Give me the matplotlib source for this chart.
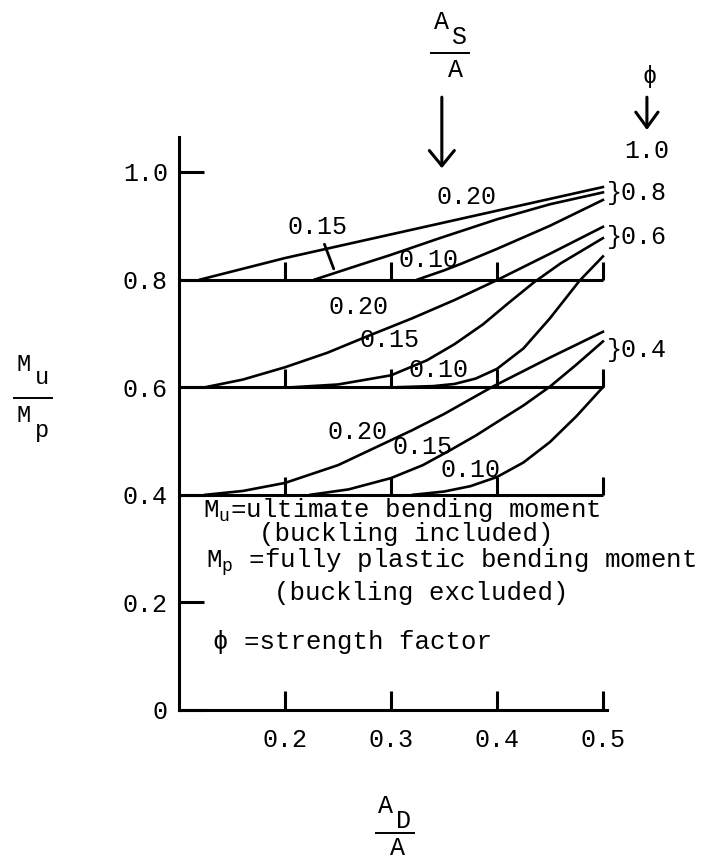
import matplotlib
matplotlib.use("Agg")
import matplotlib.pyplot as plt
from matplotlib.lines import Line2D

plt.rcParams['font.family'] = ['Liberation Mono', 'DejaVu Sans Mono']
plt.rcParams['mathtext.fontset'] = 'custom'
plt.rcParams['mathtext.rm'] = 'Liberation Mono'
plt.rcParams['mathtext.it'] = 'Liberation Mono'
plt.rcParams['font.size'] = 18

W, H = 716, 859

# base lines (strength factor phi) and tick values
phi_base = [0.4, 0.6, 0.8]
x_ticks = [0.2, 0.3, 0.4, 0.5]
x_tick_labels = ["0.2", "0.3", "0.4", "0.5"]
y_ticks = [0, 0.2, 0.4, 0.6, 0.8, 1.0]
y_tick_labels = ["0", "0.2", "0.4", "0.6", "0.8", "1.0"]

# phi = 0.8
ad_08_20 = [0.12, 0.20, 0.30, 0.40, 0.50]
mu_08_20 = [0.80, 0.840, 0.884, 0.928, 0.972]
ad_08_15 = [0.228, 0.27, 0.30, 0.346, 0.40, 0.45, 0.50]
mu_08_15 = [0.80, 0.827, 0.846, 0.877, 0.912, 0.940, 0.962]
ad_08_10 = [0.325, 0.35, 0.367, 0.40, 0.45, 0.50]
mu_08_10 = [0.80, 0.817, 0.830, 0.857, 0.900, 0.948]

# phi = 0.6
ad_06_20 = [0.125, 0.16, 0.20, 0.24, 0.277, 0.32, 0.36, 0.40, 0.45, 0.50]
mu_06_20 = [0.60, 0.614, 0.637, 0.664, 0.694, 0.728, 0.762, 0.799, 0.848, 0.898]
ad_06_15 = [0.208, 0.25, 0.30, 0.334, 0.36, 0.387, 0.41, 0.435, 0.46, 0.50]
mu_06_15 = [0.60, 0.605, 0.622, 0.650, 0.680, 0.717, 0.755, 0.795, 0.830, 0.877]
ad_06_10 = [0.307, 0.34, 0.36, 0.38, 0.40, 0.425, 0.45, 0.478, 0.50]
mu_06_10 = [0.60, 0.602, 0.606, 0.616, 0.634, 0.672, 0.728, 0.798, 0.843]

# phi = 0.4
ad_04_20 = [0.125, 0.16, 0.20, 0.25, 0.292, 0.32, 0.35, 0.396, 0.45, 0.50]
mu_04_20 = [0.40, 0.407, 0.422, 0.455, 0.494, 0.520, 0.550, 0.601, 0.655, 0.703]
ad_04_15 = [0.224, 0.26, 0.30, 0.33, 0.356, 0.38, 0.40, 0.425, 0.45, 0.475, 0.50]
mu_04_15 = [0.40, 0.410, 0.431, 0.455, 0.483, 0.510, 0.535, 0.566, 0.601, 0.642, 0.685]
ad_04_10 = [0.321, 0.35, 0.375, 0.40, 0.425, 0.45, 0.475, 0.50]
mu_04_10 = [0.40, 0.406, 0.416, 0.433, 0.460, 0.498, 0.546, 0.600]

curves = [(ad_08_20, mu_08_20), (ad_08_15, mu_08_15), (ad_08_10, mu_08_10),
          (ad_06_20, mu_06_20), (ad_06_15, mu_06_15), (ad_06_10, mu_06_10),
          (ad_04_20, mu_04_20), (ad_04_15, mu_04_15), (ad_04_10, mu_04_10)]

fig = plt.figure(figsize=(7.16, 8.59), dpi=100)
ax = fig.add_axes([0.25, 0.1735, 0.598, 0.667])

lw = 2.2
for x, y in curves:
    ax.plot(x, y, color='black', lw=1.9, solid_joinstyle='round')

ax.hlines(phi_base, 0.1, 0.5, color='black', lw=lw)
for b in phi_base:
    ax.vlines(x_ticks, b, b + 0.033, color='black', lw=lw)

ax.set_xlim(0.1, 0.504)
ax.set_ylim(0, 1.065)
for s in ['top', 'right']:
    ax.spines[s].set_visible(False)
for s in ['left', 'bottom']:
    ax.spines[s].set_linewidth(lw)

ax.set_xticks(x_ticks, labels=x_tick_labels)
ax.set_yticks(y_ticks, labels=y_tick_labels)
ax.tick_params(axis='x', direction='in', length=14, width=lw, pad=13, labelsize=18)
ax.tick_params(axis='y', direction='in', length=18, width=lw, pad=8, labelsize=18)

# curve labels
ax.text(0.371, 0.953, "0.20", ha='center', va='center')
ax.annotate("0.15", xy=(0.246, 0.820), xytext=(0.231, 0.898), ha='center', va='center',
            arrowprops=dict(arrowstyle='-', color='black', lw=2, shrinkA=2, shrinkB=0))
ax.text(0.335, 0.836, "0.10", ha='center', va='center')
ax.text(0.269, 0.749, "0.20", ha='center', va='center')
ax.text(0.299, 0.688, "0.15", ha='center', va='center')
ax.text(0.345, 0.632, "0.10", ha='center', va='center')
ax.text(0.268, 0.517, "0.20", ha='center', va='center')
ax.text(0.330, 0.489, "0.15", ha='center', va='center')
ax.text(0.375, 0.446, "0.10", ha='center', va='center')

# phi labels at right
ax.text(0.5415, 1.039, "1.0", ha='center', va='center', clip_on=False)
ax.text(0.5035, 0.960, "}0.8", ha='left', va='center', clip_on=False)
ax.text(0.5035, 0.879, "}0.6", ha='left', va='center', clip_on=False)
ax.text(0.5035, 0.669, "}0.4", ha='left', va='center', clip_on=False)
ax.text(0.544, 1.177, "\u03d5", ha='center', va='center', fontsize=17, clip_on=False)
ax.annotate("", xy=(0.5415, 1.078), xytext=(0.5415, 1.139), annotation_clip=False,
            arrowprops=dict(arrowstyle='->,head_length=0.55,head_width=0.4',
                            mutation_scale=20, color='black', lw=2.2, shrinkA=0, shrinkB=0))
ax.annotate("", xy=(0.348, 1.007), xytext=(0.348, 1.139), annotation_clip=False,
            arrowprops=dict(arrowstyle='->,head_length=0.55,head_width=0.45',
                            mutation_scale=20, color='black', lw=2.2, shrinkA=0, shrinkB=0))


def frac(xc, yl, num, sub, den, dy_num, dy_sub, dy_den, dx_den, size=18):
    # stacked label: num with offset subscript over a bar, den below (pixels from top-left)
    kw = dict(ha='center', va='center', fontsize=size)
    fig.text((xc - 9) / W, 1 - (yl + dy_num) / H, num, **kw)
    fig.text((xc + 9) / W, 1 - (yl + dy_sub) / H, sub, **kw)
    fig.text((xc + dx_den) / W, 1 - (yl + dy_den) / H, den, **kw)
    fig.add_artist(Line2D([(xc - 19) / W, (xc + 19) / W], [1 - yl / H, 1 - yl / H],
                          color='black', lw=1.4, transform=fig.transFigure))


frac(33, 398, "M", "u", "M", -34, -21, 17, -9, size=17)
fig.text(42 / W, 1 - 430 / H, "p", ha='center', va='center', fontsize=17)
frac(450, 53, "A", "S", "A", -31, -16, 17, 6)
frac(395, 833, "A", "D", "A", -27, -12, 15, 2)

# legend block
ax.text(0.1226, 0.371, r"$\mathrm{M_u}$=ultimate bending moment", ha='left', va='center',
        fontsize=18.5)
ax.text(0.1755, 0.327, "(buckling included)", ha='left', va='center', fontsize=18.5)
ax.text(0.1255, 0.274, r"$\mathrm{M_p}$ =fully plastic bending moment", ha='left',
        va='center', fontsize=18.5, clip_on=False)
ax.text(0.19, 0.218, "(buckling excluded)", ha='left', va='center', fontsize=18.5)
ax.text(0.132, 0.126, "\u03d5 =strength factor", ha='left', va='center', fontsize=18.5)

fig.savefig("out.png", dpi=100)
